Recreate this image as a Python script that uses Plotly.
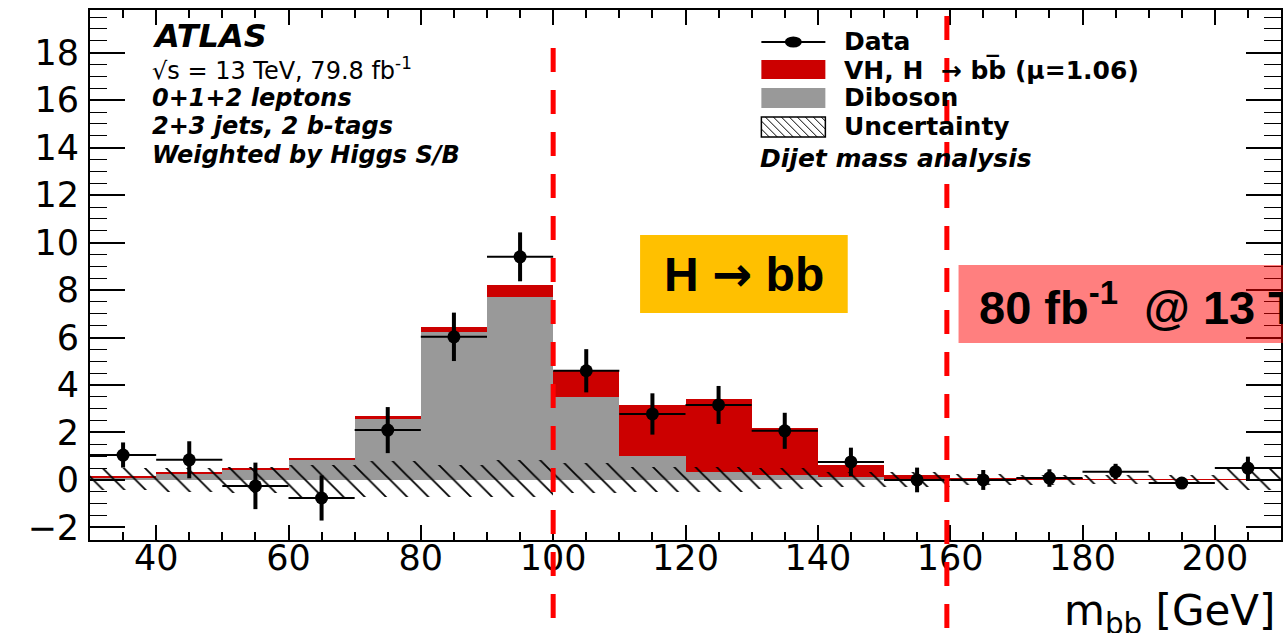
import plotly.graph_objects as go

# ---------------- data ----------------
bin_centers = [35, 45, 55, 65, 75, 85, 95, 105, 115, 125, 135, 145, 155, 165, 175, 185, 195, 205]
bin_width = 10
diboson = [0.12, 0.27, 0.45, 0.85, 2.58, 6.25, 7.7, 3.5, 1.0, 0.35, 0.2, 0.12, 0.05, 0.03, 0.02, 0.01, 0.01, 0.01]
vh_signal = [0.04, 0.04, 0.06, 0.08, 0.12, 0.2, 0.5, 1.1, 2.15, 3.05, 2.0, 0.53, 0.15, 0.05, 0.03, 0.02, 0.01, 0.01]
data_y = [1.05, 0.85, -0.25, -0.76, 2.1, 6.03, 9.4, 4.6, 2.78, 3.16, 2.07, 0.76, 0.0, 0.0, 0.08, 0.35, -0.13, 0.5]
data_err = [0.53, 0.78, 0.98, 0.95, 0.97, 1.02, 1.03, 0.91, 0.87, 0.8, 0.76, 0.6, 0.52, 0.42, 0.37, 0.33, 0.2, 0.48]
unc_hi = [0.5, 0.5, 0.55, 0.63, 0.8, 0.65, 0.84, 0.7, 0.55, 0.55, 0.5, 0.35, 0.34, 0.25, 0.22, 0.2, 0.2, 0.55]
unc_lo = [-0.42, -0.5, -0.55, -0.72, -0.7, -0.7, -0.7, -0.55, -0.5, -0.5, -0.4, -0.3, -0.3, -0.22, -0.2, -0.15, -0.15, -0.42]

x_tickvals = [40, 60, 80, 100, 120, 140, 160, 180, 200]
x_ticktext = ["40", "60", "80", "100", "120", "140", "160", "180", "200"]
y_tickvals = [-2, 0, 2, 4, 6, 8, 10, 12, 14, 16, 18]
y_ticktext = ["\u22122", "0", "2", "4", "6", "8", "10", "12", "14", "16", "18"]

window_edges = [100, 159.5]  # dashed red lines (m_bb values)

X_RANGE = [30, 210]
Y_RANGE = [-2.53, 19.8]

# ---------------- layout geometry ----------------
W, H = 1283, 633
ML, MR, MT, MB = 90, 0, 10, 93
PW = W - ML - MR
PH = H - MT - MB


def px(x):
    return (x - ML) / PW


def py(y):
    return (H - MB - y) / PH


def xdata_to_paper(v):
    return (v - X_RANGE[0]) / (X_RANGE[1] - X_RANGE[0])


fig = go.Figure()

fig.add_trace(go.Bar(
    x=bin_centers, y=diboson, base=[0] * len(diboson), width=bin_width,
    marker=dict(color="#999999", line=dict(width=0)), name="Diboson", showlegend=False))
fig.add_trace(go.Bar(
    x=bin_centers, y=vh_signal, base=diboson, width=bin_width,
    marker=dict(color="#cc0000", line=dict(width=0)), name="VH", showlegend=False))
fig.add_trace(go.Bar(
    x=bin_centers, y=[h - l for h, l in zip(unc_hi, unc_lo)], base=unc_lo, width=bin_width,
    marker=dict(color="black", line=dict(width=0),
                pattern=dict(shape="\\", fgcolor="black", bgcolor="rgba(0,0,0,0)",
                             fgopacity=1, size=15, solidity=0.12, fillmode="overlay")),
    name="Uncertainty", showlegend=False))
fig.add_trace(go.Scatter(
    x=bin_centers, y=data_y, mode="markers",
    marker=dict(color="black", size=13),
    error_y=dict(type="data", array=data_err, thickness=4, width=0, color="black"),
    error_x=dict(type="constant", value=bin_width / 2, thickness=2, width=0, color="black"),
    name="Data", showlegend=False))

tickfont = dict(family="DejaVu Sans", size=35, color="black")
fig.update_layout(
    width=W, height=H,
    margin=dict(l=ML, r=MR, t=MT, b=MB, pad=0),
    paper_bgcolor="white", plot_bgcolor="white",
    barmode="overlay", bargap=0,
    showlegend=False,
    xaxis=dict(range=X_RANGE, showline=True, linecolor="black", linewidth=2, mirror="ticks",
               ticks="inside", ticklen=15, tickwidth=2, tickcolor="black",
               tickmode="array", tickvals=x_tickvals, ticktext=x_ticktext, tickfont=tickfont,
               ticklabelstandoff=-14,
               minor=dict(ticks="inside", ticklen=8, dtick=5, tick0=0, tickwidth=1.5, tickcolor="black"),
               showgrid=False, zeroline=False),
    yaxis=dict(range=Y_RANGE, showline=True, linecolor="black", linewidth=2, mirror="ticks",
               ticks="inside", ticklen=35, tickwidth=1.5, tickcolor="black",
               tickmode="array", tickvals=y_tickvals, ticktext=y_ticktext, tickfont=tickfont,
               ticklabelstandoff=2,
               minor=dict(ticks="inside", ticklen=17, dtick=0.5, tick0=0, tickwidth=1, tickcolor="black"),
               showgrid=False, zeroline=False),
)

shapes = []
annotations = []

# ----- left text block -----
left_texts = [
    ("<b><i>ATLAS</i></b>", 36, 32),
    ("\u221as = 13 TeV, 79.8 fb<sup>-1</sup>", 69, 24),
    ("<b><i>0+1+2 leptons</i></b>", 98, 24),
    ("<b><i>2+3 jets, 2 b-tags</i></b>", 126, 24),
    ("<b><i>Weighted by Higgs S/B</i></b>", 155, 24),
]
for t, yy, sz in left_texts:
    annotations.append(dict(text=t, xref="paper", yref="paper", x=px(150), y=py(yy),
                            xanchor="left", yanchor="middle", showarrow=False,
                            font=dict(family="DejaVu Sans", size=sz, color="black")))

# ----- legend -----
LX0, LX1 = 762.5, 826.6
shapes.append(dict(type="line", xref="paper", yref="paper", x0=px(LX0), x1=px(LX1),
                   y0=py(42), y1=py(42), line=dict(color="black", width=2)))
shapes.append(dict(type="circle", xref="paper", yref="paper", x0=px(786), x1=px(803),
                   y0=py(36.5), y1=py(47.5), fillcolor="black", line=dict(width=0)))
shapes.append(dict(type="rect", xref="paper", yref="paper", x0=px(LX0), x1=px(LX1),
                   y0=py(60), y1=py(79), fillcolor="#cc0000", line=dict(width=0)))
shapes.append(dict(type="rect", xref="paper", yref="paper", x0=px(LX0), x1=px(LX1),
                   y0=py(88), y1=py(108), fillcolor="#999999", line=dict(width=0)))
UT, UB = 117, 137
shapes.append(dict(type="rect", xref="paper", yref="paper", x0=px(LX0), x1=px(LX1),
                   y0=py(UT), y1=py(UB), fillcolor="white", line=dict(color="black", width=1.5)))
hh = UB - UT
c = LX0 - hh
while c < LX1:
    xs, ys = c, UT
    xe, ye = c + hh, UB
    if xs < LX0:
        ys = UT + (LX0 - xs)
        xs = LX0
    if xe > LX1:
        ye = UT + (LX1 - c)
        xe = LX1
    if xe > xs:
        shapes.append(dict(type="line", xref="paper", yref="paper", x0=px(xs), y0=py(ys),
                           x1=px(xe), y1=py(ye), line=dict(color="black", width=1)))
    c += 8

legend_texts = [
    ("<b>Data</b>", 42),
    ("<b>VH, H  \u2192 bb\u0305 (\u03bc=1.06)</b>", 70),
    ("<b>Diboson</b>", 98),
    ("<b>Uncertainty</b>", 127),
]
for t, yy in legend_texts:
    annotations.append(dict(text=t, xref="paper", yref="paper", x=px(843), y=py(yy),
                            xanchor="left", yanchor="middle", showarrow=False,
                            font=dict(family="DejaVu Sans", size=25, color="black")))
annotations.append(dict(text="<b><i>Dijet mass analysis</i></b>", xref="paper", yref="paper",
                        x=px(759), y=py(158), xanchor="left", yanchor="middle", showarrow=False,
                        font=dict(family="DejaVu Sans", size=25, color="black")))

# ----- x axis title -----
annotations.append(dict(text="m<sub>bb</sub> [GeV]", xref="paper", yref="paper",
                        x=px(1279), y=py(613), xanchor="right", yanchor="middle", showarrow=False,
                        font=dict(family="DejaVu Sans", size=42, color="black")))

# ----- slide overlays -----
shapes.append(dict(type="rect", xref="paper", yref="paper", x0=px(641), x1=px(849),
                   y0=py(235), y1=py(313), fillcolor="#FFC000", line=dict(width=0), layer="above"))
annotations.append(dict(text="<b>H <span style='font-family:DejaVu Sans'>\u2192</span> bb</b>",
                        xref="paper", yref="paper",
                        x=px(745), y=py(274), xanchor="center", yanchor="middle", showarrow=False,
                        font=dict(family="Liberation Sans", size=48, color="black")))
shapes.append(dict(type="rect", xref="paper", yref="paper", x0=px(960), x1=px(1300),
                   y0=py(265), y1=py(343), fillcolor="rgba(255,0,0,0.5)", line=dict(width=0),
                   layer="above"))
annotations.append(dict(text="<b>80 fb<sup>-1</sup>  @ 13 TeV</b>", xref="paper", yref="paper",
                        x=px(978), y=py(304), xanchor="left", yanchor="middle", showarrow=False,
                        font=dict(family="Liberation Sans", size=47, color="black")))

tops = [48, 16]
for v, top in zip(window_edges, tops):
    xp = xdata_to_paper(v)
    shapes.append(dict(type="line", xref="paper", yref="paper", x0=xp, x1=xp,
                       y0=py(top), y1=py(640), layer="above",
                       line=dict(color="#ff0000", width=5, dash="24px,18px")))

fig.update_layout(shapes=shapes, annotations=annotations)
fig.write_html("out.html")
